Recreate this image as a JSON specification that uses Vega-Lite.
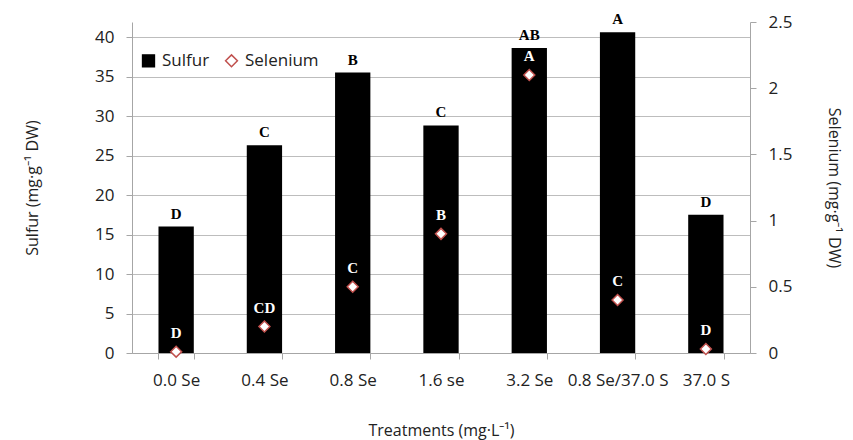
{
  "$schema": "https://vega.github.io/schema/vega-lite/v6.json",
  "width": 618,
  "height": 331,
  "autosize": {"type": "none"},
  "padding": {"left": 132, "top": 22, "right": 103, "bottom": 87},
  "background": "white",
  "config": {
    "view": {"stroke": null},
    "font": "Open Sans",
    "axis": {"labelFont": "Open Sans", "titleFont": "Open Sans", "labelColor": "#222", "titleColor": "#222", "titleFontWeight": "normal", "domainColor": "#a6a6a6", "tickColor": "#a6a6a6", "gridColor": "#bdbdbd"}
  },
  "data": {
    "values": [
      {"treatment": "0.0 Se", "series": "Sulfur", "value": 16.0, "letter": "D"},
      {"treatment": "0.4 Se", "series": "Sulfur", "value": 26.3, "letter": "C"},
      {"treatment": "0.8 Se", "series": "Sulfur", "value": 35.5, "letter": "B"},
      {"treatment": "1.6 se", "series": "Sulfur", "value": 28.8, "letter": "C"},
      {"treatment": "3.2 Se", "series": "Sulfur", "value": 38.6, "letter": "AB"},
      {"treatment": "0.8 Se/37.0 S", "series": "Sulfur", "value": 40.6, "letter": "A"},
      {"treatment": "37.0 S", "series": "Sulfur", "value": 17.5, "letter": "D"},
      {"treatment": "0.0 Se", "series": "Selenium", "value": 0.01, "letter": "D"},
      {"treatment": "0.4 Se", "series": "Selenium", "value": 0.2, "letter": "CD"},
      {"treatment": "0.8 Se", "series": "Selenium", "value": 0.5, "letter": "C"},
      {"treatment": "1.6 se", "series": "Selenium", "value": 0.9, "letter": "B"},
      {"treatment": "3.2 Se", "series": "Selenium", "value": 2.1, "letter": "A"},
      {"treatment": "0.8 Se/37.0 S", "series": "Selenium", "value": 0.4, "letter": "C"},
      {"treatment": "37.0 S", "series": "Selenium", "value": 0.03, "letter": "D"}
    ]
  },
  "encoding": {
    "x": {
      "field": "treatment",
      "type": "nominal",
      "sort": null,
      "scale": {"paddingInner": 0.6, "paddingOuter": 0.3},
      "axis": {"title": "Treatments (mg·L⁻¹)", "labelAngle": 0, "tickBand": "extent", "tickSize": 6, "labelPadding": 13, "labelFontSize": 17, "titleFontSize": 16, "titlePadding": 34}
    }
  },
  "layer": [
    {
      "transform": [{"filter": "datum.series == 'Sulfur'"}],
      "encoding": {
        "y": {
          "field": "value",
          "type": "quantitative",
          "scale": {"domain": [0, 41.9], "nice": false, "zero": true},
          "axis": {"title": "Sulfur (mg·g⁻¹ DW)", "values": [0, 5, 10, 15, 20, 25, 30, 35, 40], "grid": true, "tickSize": 6, "labelPadding": 12, "labelFontSize": 17, "titleFontSize": 16, "titlePadding": 54}
        }
      },
      "layer": [
        {
          "mark": {"type": "bar"},
          "encoding": {
            "fill": {
              "field": "series",
              "type": "nominal",
              "scale": {"domain": ["Sulfur", "Selenium"], "range": ["black", "white"]},
              "legend": {"title": null, "orient": "none", "legendX": 8, "legendY": 30, "direction": "horizontal", "labelFontSize": 17, "labelFont": "Open Sans", "labelColor": "#222", "symbolSize": 140, "symbolStrokeWidth": 1.5, "columnPadding": 12, "labelOffset": 5}
            }
          }
        },
        {
          "mark": {"type": "text", "font": "Liberation Serif", "fontWeight": "bold", "fontSize": 15, "baseline": "alphabetic", "dy": -8, "color": "black"},
          "encoding": {"text": {"field": "letter"}}
        }
      ]
    },
    {
      "transform": [{"filter": "datum.series == 'Selenium'"}],
      "encoding": {
        "y": {
          "field": "value",
          "type": "quantitative",
          "scale": {"domain": [0, 2.5], "nice": false},
          "axis": {"title": "Selenium (mg·g⁻¹ DW)", "orient": "right", "values": [0, 0.5, 1, 1.5, 2, 2.5], "format": "~g", "grid": false, "tickSize": 6, "labelPadding": 12, "labelFontSize": 17, "titleFontSize": 16, "titlePadding": 34}
        }
      },
      "layer": [
        {
          "mark": {"type": "point", "filled": false, "size": 120, "strokeWidth": 1.5, "opacity": 1},
          "encoding": {
            "fill": {"field": "series", "type": "nominal"},
            "shape": {"field": "series", "type": "nominal", "scale": {"domain": ["Sulfur", "Selenium"], "range": ["square", "diamond"]}},
            "stroke": {"field": "series", "type": "nominal", "scale": {"domain": ["Sulfur", "Selenium"], "range": ["black", "#c0504d"]}}
          }
        },
        {
          "mark": {"type": "text", "font": "Liberation Serif", "fontWeight": "bold", "fontSize": 15, "baseline": "alphabetic", "dy": -14, "color": "white"},
          "encoding": {"text": {"field": "letter"}}
        }
      ]
    }
  ],
  "resolve": {"scale": {"y": "independent"}}
}
